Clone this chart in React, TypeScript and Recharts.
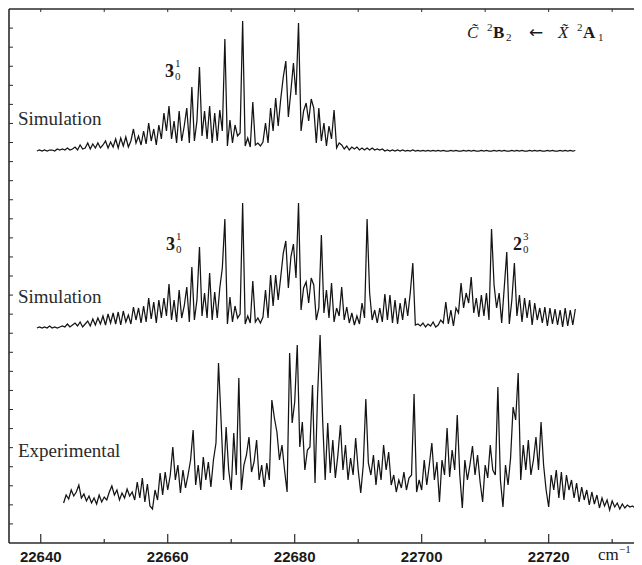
import { Line, LineChart, XAxis, YAxis } from "recharts";

// sampling of the spectra (cm^-1)
const SIM_START = 22639.4;
const EXP_START = 22643.6;
const STEP = 0.4;

// intensities (arb. units)
const topSim = [
  0, 1, 0, 1, 0, 1, 1, 0, 2, 1,
  2, 1, 3, 1, 2, 4, 1, 6, 2, 3,
  8, 2, 7, 3, 8, 3, 6, 10, 3, 9,
  4, 12, 3, 13, 5, 14, 4, 10, 22, 8,
  15, 6, 20, 7, 28, 10, 22, 6, 26, 12,
  38, 20, 45, 12, 30, 8, 40, 10, 25, 43,
  8, 64, 10, 30, 84, 15, 40, 12, 45, 8,
  38, 10, 41, 20, 112, 5, 31, 8, 26, 15,
  18, 130, 5, 13, 4, 49, 6, 8, 5, 9,
  28, 8, 43, 20, 53, 25, 52, 74, 90, 34,
  60, 88, 56, 128, 20, 40, 48, 30, 52, 43,
  8, 43, 10, 28, 5, 25, 12, 41, 3, 8,
  6, 2, 5, 1, 4, 2, 4, 1, 3, 1,
  3, 1, 3, 1, 2, 1, 2, 0, 1, 0,
  1, 0, 1, 0, 1, 0, 0.5, 0, 1, 0,
  0.5, 0, 0.5, 0, 0.5, 0, 0.5, 0, 0.5, 0,
  0.5, 0, 0, 0.5, 0, 0.5, 0, 0, 0.5, 0,
  0.5, 0, 0.5, 0, 0, 0.5, 0, 0.5, 0, 0,
  0.5, 0, 0.5, 0, 0.5, 0, 0, 0.5, 0, 0.5,
  0, 0.5, 0, 0, 0.5, 0, 0.5, 0, 0.5, 0,
  0, 0.5, 0, 0.5, 0, 0, 0.5, 0, 0.5, 0,
  0.5, 0, 0.5
];

const midSim = [
  0, 1, 0, 1, 0, 2, 0, 1, 0, 1,
  2, 1, 4, 1, 3, 5, 2, 6, 1, 4,
  7, 2, 9, 3, 10, 4, 12, 3, 14, 5,
  15, 4, 16, 3, 17, 6, 13, 4, 21, 8,
  20, 5, 22, 6, 30, 9, 26, 5, 28, 10,
  30, 12, 44, 8, 28, 6, 38, 10, 22, 41,
  6, 61, 8, 28, 81, 12, 35, 10, 55, 8,
  36, 10, 40, 60, 109, 4, 31, 6, 22, 10,
  14, 125, 4, 12, 5, 47, 6, 10, 5, 11,
  38, 10, 53, 22, 53, 28, 51, 75, 87, 40,
  71, 84, 50, 125, 18, 40, 46, 25, 50, 43,
  8, 20, 93, 15, 38, 10, 45, 6, 20, 12,
  41, 8, 21, 5, 15, 3, 12, 4, 25, 10,
  109, 35, 8, 18, 5, 20, 6, 34, 8, 33,
  5, 28, 4, 25, 8, 30, 12, 35, 65, 3,
  4, 2, 5, 1, 4, 2, 6, 1, 3, 8,
  5, 26, 4, 18, 2, 20, 15, 45, 20, 35,
  25, 51, 15, 30, 11, 33, 12, 35, 8, 99,
  43, 20, 35, 5, 40, 76, 4, 28, 65, 12,
  33, 6, 30, 10, 28, 3, 25, 8, 20, 5,
  21, 2, 20, 4, 19, 3, 18, 1, 20, 2,
  18, 3, 19
];

const experimental = [
  17, 25, 21, 30, 24, 28, 35, 22, 26, 19,
  24, 17, 22, 16, 25, 18, 23, 20, 28, 34,
  25, 30, 20, 27, 22, 31, 24, 28, 20, 38,
  22, 42, 18, 36, 14, 11, 30, 20, 47, 25,
  48, 30, 45, 73, 40, 55, 27, 50, 32, 45,
  60, 90, 35, 55, 30, 63, 40, 58, 33, 60,
  77, 157, 100, 40, 93, 50, 30, 87, 45, 142,
  30, 55, 65, 83, 48, 58, 80, 40, 55, 33,
  57, 40, 120, 102, 88, 60, 75, 50, 28, 167,
  97, 118, 175, 73, 98, 50, 70, 73, 135, 37,
  125, 185, 100, 40, 97, 47, 80, 42, 65, 95,
  50, 75, 40, 62, 45, 82, 50, 27, 55, 121,
  57, 45, 65, 35, 60, 40, 75, 50, 68, 35,
  45, 28, 40, 32, 48, 30, 42, 45, 126, 28,
  40, 30, 60, 35, 55, 77, 40, 58, 18, 60,
  45, 92, 43, 70, 50, 105, 45, 12, 60, 40,
  55, 74, 45, 65, 38, 18, 55, 42, 75, 50,
  45, 133, 40, 13, 55, 35, 62, 113, 100, 147,
  40, 75, 50, 80, 45, 60, 83, 50, 98, 55,
  30, 13, 45, 30, 50, 22, 48, 20, 45, 30,
  40, 22, 37, 18, 33, 20, 30, 15, 28, 16,
  25, 12, 22, 14, 20, 10, 19, 13, 17, 11,
  16, 12, 15, 13, 14, 12
];

const xTicks = [22640, 22650, 22660, 22670, 22680, 22690, 22700, 22710, 22720, 22730];

// vertical offsets of the stacked traces
const TOP_OFFSET = 392;
const MID_OFFSET = 215;
const EXP_OFFSET = 23;

const Y_MAX = 534;
const Y_STEP = 19.07;
const yTicks = Array.from({ length: 27 }, (_, k) => (k + 1) * Y_STEP);

const toSeries = (values: number[], start: number, offset: number) =>
  values.map((v, i) => ({ x: +(start + i * STEP).toFixed(1), y: offset + v }));

const topData = toSeries(topSim, SIM_START, TOP_OFFSET);
const midData = toSeries(midSim, SIM_START, MID_OFFSET);
const expData = toSeries(experimental, EXP_START, EXP_OFFSET);

const W = 634;
const H = 557;
const AXIS = "#2b2b2b";
const INK = "#141414";
const serif = "'Liberation Serif', 'DejaVu Serif', serif";
const X_DOMAIN: [number, number] = [22635.0, 22734.7];

function BottomTick(props: any) {
  const { x, y, payload } = props;
  const major = payload.value % 20 === 0;
  return (
    <g>
      <line x1={x} x2={x} y1={y} y2={y - (major ? 9 : 4)} stroke={AXIS} strokeWidth={1.2} />
      {major && (
        <text
          x={x}
          y={y + 19}
          textAnchor="middle"
          fontFamily="'Liberation Sans', Arial, sans-serif"
          fontWeight="bold"
          fontSize={15}
          fill="#1a1a1a"
        >
          {payload.value}
        </text>
      )}
    </g>
  );
}

function TopTick(props: any) {
  const { x, y } = props;
  return <line x1={x} x2={x} y1={y} y2={y + 3} stroke={AXIS} strokeWidth={1} />;
}

function LeftTick(props: any) {
  const { x, y } = props;
  return <line x1={x} x2={x + 4} y1={y} y2={y} stroke={AXIS} strokeWidth={1} />;
}

function Transition({ x, y, up, low, main }: { x: number; y: number; up: string; low: string; main: string }) {
  return (
    <g fontFamily={serif} fill="#1a1a1a">
      <text x={x} y={y} fontSize={18} fontWeight="bold">{main}</text>
      <text x={x + 10} y={y - 10} fontSize={11}>{up}</text>
      <text x={x + 10} y={y + 3} fontSize={11}>{low}</text>
    </g>
  );
}

export default function App() {
  return (
    <div style={{ position: "relative", width: W, height: H }}>
      <LineChart width={W} height={H} margin={{ top: 0, right: 0, bottom: 0, left: 0 }}>
        <XAxis
          dataKey="x"
          type="number"
          domain={X_DOMAIN}
          allowDataOverflow
          ticks={xTicks}
          interval={0}
          height={22}
          tickSize={0}
          tickMargin={0}
          tickLine={false}
          tick={(p: any) => <BottomTick {...p} />}
          axisLine={{ stroke: AXIS, strokeWidth: 1.6 }}
        />
        <XAxis
          xAxisId="top"
          orientation="top"
          dataKey="x"
          type="number"
          domain={X_DOMAIN}
          allowDataOverflow
          ticks={xTicks}
          interval={0}
          height={1}
          tickSize={0}
          tickMargin={0}
          tickLine={false}
          tick={(p: any) => <TopTick {...p} />}
          axisLine={{ stroke: AXIS, strokeWidth: 1.4 }}
        />
        <YAxis
          type="number"
          domain={[0, Y_MAX]}
          allowDataOverflow
          ticks={yTicks}
          interval={0}
          width={1}
          tickSize={0}
          tickMargin={0}
          tickLine={false}
          tick={(p: any) => <LeftTick {...p} />}
          axisLine={{ stroke: AXIS, strokeWidth: 1.6 }}
        />
        <Line data={topData} dataKey="y" type="linear" dot={false} stroke={INK} strokeWidth={1.25} isAnimationActive={false} />
        <Line data={midData} dataKey="y" type="linear" dot={false} stroke={INK} strokeWidth={1.25} isAnimationActive={false} />
        <Line data={expData} dataKey="y" type="linear" dot={false} stroke={INK} strokeWidth={1.25} isAnimationActive={false} />
        <Line
          xAxisId="top"
          data={expData}
          dataKey="y"
          dot={false}
          stroke="none"
          legendType="none"
          isAnimationActive={false}
        />
      </LineChart>
      <svg width={W} height={H} style={{ position: "absolute", left: 0, top: 0, pointerEvents: "none" }}>
        <g fontFamily={serif} fontSize={19} fill="#2a2a2a">
          <text x={10} y={117}>Simulation</text>
          <text x={10} y={295}>Simulation</text>
          <text x={10} y={449}>Experimental</text>
        </g>
        <Transition x={157} y={69} main="3" up="1" low="0" />
        <Transition x={158} y={242} main="3" up="1" low="0" />
        <Transition x={505} y={242} main="2" up="3" low="0" />
        <g fontFamily={serif} fill="#1a1a1a">
          <text x={459} y={30} fontSize={17} fontStyle="italic">{"C\u0303"}</text>
          <text x={479} y={23} fontSize={11}>2</text>
          <text x={485} y={30} fontSize={17} fontWeight="bold">B</text>
          <text x={498} y={33} fontSize={11}>2</text>
          <text x={521} y={30} fontSize={17} fontFamily="'DejaVu Sans', sans-serif">←</text>
          <text x={550} y={30} fontSize={17} fontStyle="italic">{"X\u0303"}</text>
          <text x={569} y={23} fontSize={11}>2</text>
          <text x={575} y={30} fontSize={17} fontWeight="bold">A</text>
          <text x={590} y={33} fontSize={11}>1</text>
          <text x={590} y={552} fontSize={17}>cm</text>
          <text x={611} y={545} fontSize={11}>−1</text>
        </g>
      </svg>
    </div>
  );
}
